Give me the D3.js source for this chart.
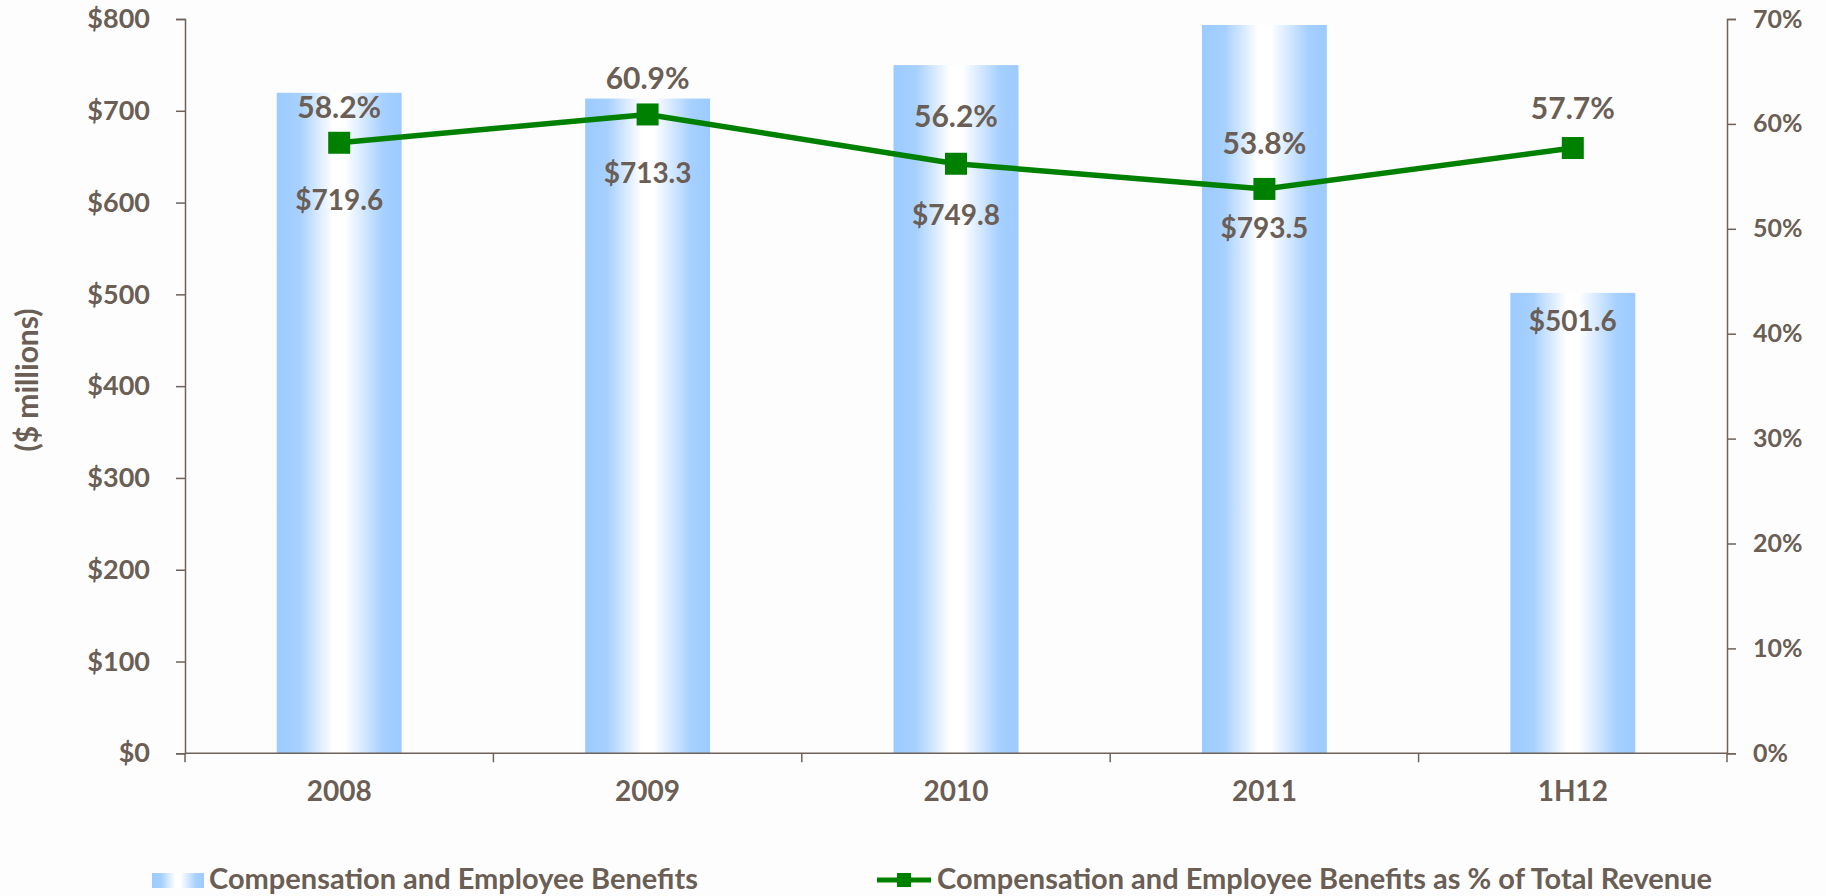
<!DOCTYPE html>
<html>
<head>
<meta charset="utf-8">
<script src="https://cdn.jsdelivr.net/npm/d3@7"></script>
<style>
  html, body { margin: 0; padding: 0; background: #fdfdfd; }
  svg { display: block; }
  text { font-family: "Lato", "Open Sans", sans-serif; font-weight: 700; fill: #6a5e55; }
</style>
</head>
<body>
<svg id="chart" width="1826" height="896"></svg>
<script>
// ---- data ----
const categories = ["2008", "2009", "2010", "2011", "1H12"];
const compValues = [719.6, 713.3, 749.8, 793.5, 501.6];
const compLabels = ["$719.6", "$713.3", "$749.8", "$793.5", "$501.6"];
const pctValues = [58.2, 60.9, 56.2, 53.8, 57.7];
const pctLabels = ["58.2%", "60.9%", "56.2%", "53.8%", "57.7%"];
const leftTicks = [0, 100, 200, 300, 400, 500, 600, 700, 800];
const rightTicks = [0, 10, 20, 30, 40, 50, 60, 70];
const legendLabels = ["Compensation and Employee Benefits", "Compensation and Employee Benefits as % of Total Revenue"];
const yTitle = "($ millions)";

(function () {
// ---- layout (label nudges, px) ----
const pctLabelLift = [36, 36, 48, 46, 40];
const valLabelDrop = [57, 58, 51, 39, null]; // null => inside bar top

const pL = 185, pR = 1727, pT = 19, pB = 753.3;
const textColor = "#6a5e55";
const axisColor = "#6e625a";
const green = "#008000";

const svg = d3.select("#chart");

const x = d3.scaleBand().domain(categories).range([pL, pR]).paddingInner(0).paddingOuter(0);
const yL = d3.scaleLinear().domain([0, 800]).range([pB, pT]);
const yR = d3.scaleLinear().domain([0, 70]).range([pB, pT]);
const barW = x.bandwidth() * 0.405;

// gradient
const defs = svg.append("defs");
const grad = defs.append("linearGradient").attr("id", "barGrad")
  .attr("x1", "0%").attr("x2", "100%").attr("y1", "0%").attr("y2", "0%");
[[0, "#9ccbff"], [0.18, "#a6d0ff"], [0.45, "#ffffff"], [0.55, "#ffffff"], [0.85, "#a6d0ff"], [1, "#9ccbff"]]
  .forEach(([o, c]) => grad.append("stop").attr("offset", o).attr("stop-color", c));

// bars
svg.append("g").selectAll("rect").data(categories).join("rect")
  .attr("x", d => x(d) + x.bandwidth() / 2 - barW / 2)
  .attr("width", barW)
  .attr("y", (d, i) => yL(compValues[i]))
  .attr("height", (d, i) => pB - yL(compValues[i]))
  .attr("fill", "url(#barGrad)");

// left axis
const gL = svg.append("g").attr("transform", `translate(${pL},0)`)
  .call(d3.axisLeft(yL).tickValues(leftTicks).tickSize(9).tickPadding(26).tickFormat(d => "$" + d));
gL.selectAll("path, line").attr("stroke", axisColor).attr("stroke-width", 1.5);
gL.selectAll("text").style("font-size", "27px").attr("fill", textColor);

// right axis
const gR = svg.append("g").attr("transform", `translate(${pR},0)`)
  .call(d3.axisRight(yR).tickValues(rightTicks).tickSize(9).tickPadding(17).tickFormat(d => d + "%"));
gR.selectAll("path, line").attr("stroke", axisColor).attr("stroke-width", 1.5);
gR.selectAll("text").style("font-size", "25px").attr("fill", textColor);

// bottom axis
const gB = svg.append("g");
gB.append("line").attr("x1", pL).attr("x2", pR).attr("y1", pB).attr("y2", pB)
  .attr("stroke", axisColor).attr("stroke-width", 1.5);
const bounds = categories.map(d => x(d)).concat([pR]);
gB.selectAll("line.tk").data(bounds).join("line").attr("class", "tk")
  .attr("x1", d => d).attr("x2", d => d).attr("y1", pB).attr("y2", pB + 9)
  .attr("stroke", axisColor).attr("stroke-width", 1.5);
gB.selectAll("text").data(categories).join("text")
  .attr("x", d => x(d) + x.bandwidth() / 2).attr("y", 791).attr("dy", "0.36em")
  .attr("text-anchor", "middle").style("font-size", "28px").text(d => d);

// y title
svg.append("text").attr("transform", "translate(27,380) rotate(-90)")
  .attr("text-anchor", "middle").attr("dy", "0.36em").style("font-size", "30px").text(yTitle);

// line
const cx = d => x(d) + x.bandwidth() / 2;
const line = d3.line().x((d, i) => cx(categories[i])).y(d => yR(d));
svg.append("path").datum(pctValues).attr("d", line)
  .attr("fill", "none").attr("stroke", green).attr("stroke-width", 5.5).attr("stroke-linejoin", "round");
svg.append("g").selectAll("rect").data(pctValues).join("rect")
  .attr("x", (d, i) => cx(categories[i]) - 11).attr("y", d => yR(d) - 11)
  .attr("width", 22).attr("height", 22).attr("fill", green);

// pct labels
svg.append("g").selectAll("text").data(pctValues).join("text")
  .attr("x", (d, i) => cx(categories[i])).attr("y", (d, i) => yR(d) - pctLabelLift[i])
  .attr("dy", "0.36em").attr("text-anchor", "middle").style("font-size", "30px")
  .text((d, i) => pctLabels[i]);

// value labels
svg.append("g").selectAll("text").data(compValues).join("text")
  .attr("x", (d, i) => cx(categories[i]))
  .attr("y", (d, i) => valLabelDrop[i] == null ? yL(d) + 28 : yR(pctValues[i]) + valLabelDrop[i])
  .attr("dy", "0.36em").attr("text-anchor", "middle").style("font-size", "28px")
  .text((d, i) => compLabels[i]);

// legend
const lg = svg.append("g");
lg.append("rect").attr("x", 152).attr("y", 873).attr("width", 52).attr("height", 15).attr("fill", "url(#barGrad)");
lg.append("text").attr("x", 209).attr("y", 889).style("font-size", "29px").text(legendLabels[0]);
lg.append("line").attr("x1", 877).attr("x2", 931).attr("y1", 880).attr("y2", 880)
  .attr("stroke", green).attr("stroke-width", 5);
lg.append("rect").attr("x", 897).attr("y", 873).attr("width", 14).attr("height", 14).attr("fill", green);
lg.append("text").attr("x", 937).attr("y", 889).style("font-size", "29px").text(legendLabels[1]);
})();
</script>
</body>
</html>
